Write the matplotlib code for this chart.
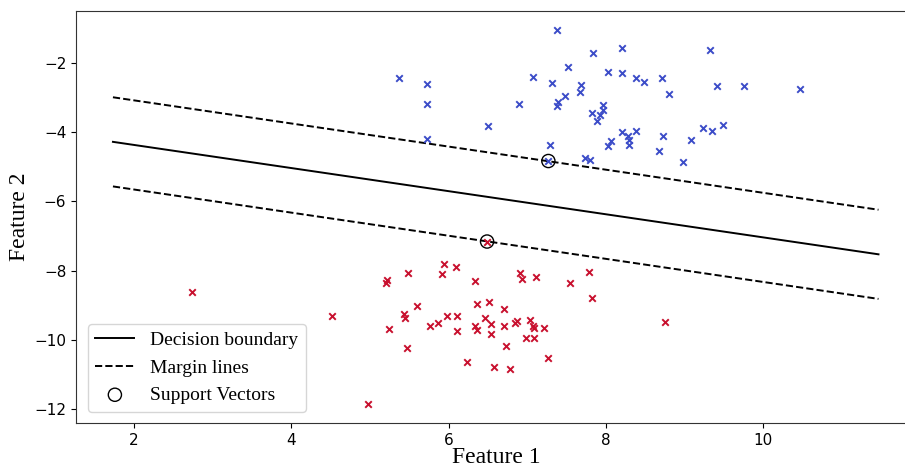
import matplotlib
matplotlib.use("Agg")
import matplotlib.pyplot as plt
import numpy as np

# ---- data ----
blue_x = [5.37, 5.73, 5.73, 6.50, 5.73, 7.38, 7.84, 8.21, 9.32, 7.52,
          8.03, 8.21, 8.38, 8.49, 8.71, 7.31, 7.69, 7.67, 9.42, 9.76,
          10.47, 8.81, 7.48, 7.39, 7.38, 7.97, 7.97, 7.82, 7.93, 7.89,
          8.21, 8.38, 8.28, 8.30, 8.30, 8.07, 8.03, 8.73, 9.08, 9.24,
          9.35, 9.49, 8.68, 8.98, 7.29, 7.73, 7.80, 7.27, 7.07, 6.89]
blue_y = [-2.44, -2.60, -3.19, -3.82, -4.19, -1.03, -1.69, -1.55, -1.61, -2.12,
          -2.26, -2.28, -2.42, -2.55, -2.42, -2.56, -2.63, -2.82, -2.65, -2.66,
          -2.74, -2.90, -2.95, -3.12, -3.24, -3.22, -3.36, -3.45, -3.51, -3.66,
          -4.00, -3.95, -4.12, -4.23, -4.37, -4.25, -4.39, -4.10, -4.21, -3.87,
          -3.95, -3.79, -4.53, -4.87, -4.38, -4.73, -4.80, -4.83, -2.41, -3.19]

red_x = [2.74, 4.52, 4.97, 5.94, 6.10, 5.48, 5.92, 5.22, 5.21, 6.34,
         6.91, 6.94, 7.11, 5.60, 6.36, 6.51, 6.71, 5.43, 5.44, 5.98,
         6.11, 6.47, 5.76, 5.87, 6.34, 6.36, 6.54, 6.70, 6.84, 6.87,
         7.04, 7.07, 7.09, 7.21, 5.24, 6.11, 6.54, 6.99, 7.09, 5.47,
         6.73, 7.26, 6.24, 6.58, 6.78, 7.54, 7.79, 7.82, 8.76, 6.49]
red_y = [-8.63, -9.31, -11.87, -7.80, -7.90, -8.07, -8.11, -8.27, -8.35, -8.29,
         -8.08, -8.23, -8.19, -9.02, -8.97, -8.90, -9.11, -9.26, -9.38, -9.31,
         -9.31, -9.38, -9.59, -9.53, -9.60, -9.72, -9.55, -9.59, -9.53, -9.47,
         -9.43, -9.60, -9.65, -9.65, -9.69, -9.75, -9.84, -9.96, -9.96, -10.23,
         -10.18, -10.54, -10.65, -10.79, -10.85, -8.37, -8.05, -8.78, -9.48, -7.16]

sv_x = [7.27, 6.49]
sv_y = [-4.83, -7.16]

line_x = [1.73, 11.47]
boundary_y = [-4.275, -7.53]
upper_margin_y = [-2.985, -6.24]
lower_margin_y = [-5.565, -8.82]

x_ticks = [2, 4, 6, 8, 10]
y_ticks = [-2, -4, -6, -8, -10, -12]

# ---- figure ----
fig = plt.figure(figsize=(9.05, 4.67), dpi=100)
ax = fig.add_axes([76 / 905, 43.7 / 467, 841 / 905, 412.6 / 467])

ax.scatter(blue_x, blue_y, marker="x", color="#3b4cc8", s=22, linewidths=1.4, zorder=3)
ax.scatter(red_x, red_y, marker="x", color="#c8102e", s=22, linewidths=1.4, zorder=3)

ax.plot(line_x, boundary_y, "k-", lw=1.4, label="Decision boundary")
ax.plot(line_x, upper_margin_y, "k--", lw=1.4, label="Margin lines")
ax.plot(line_x, lower_margin_y, "k--", lw=1.4)
ax.scatter(sv_x, sv_y, s=90, facecolors="none", edgecolors="k", linewidths=1.0,
           label="Support Vectors", zorder=4)

ax.set_xlim(1.26, 11.96)
ax.set_ylim(-12.42, -0.48)
ax.set_xticks(x_ticks)
ax.set_yticks(y_ticks)
ax.tick_params(labelsize=11)
ax.spines["right"].set_visible(False)
for s in ("left", "bottom", "top"):
    ax.spines[s].set_color("#333333")

serif = ["Liberation Serif", "DejaVu Serif"]
ax.set_xlabel("Feature 1", fontsize=17, family=serif, labelpad=-1)
ax.set_ylabel("Feature 2", fontsize=17, family=serif, labelpad=3)

leg = ax.legend(loc="lower left", prop={"family": serif, "size": 14},
                handlelength=2.0, borderaxespad=0.6)

fig.savefig("out.png", dpi=100)
